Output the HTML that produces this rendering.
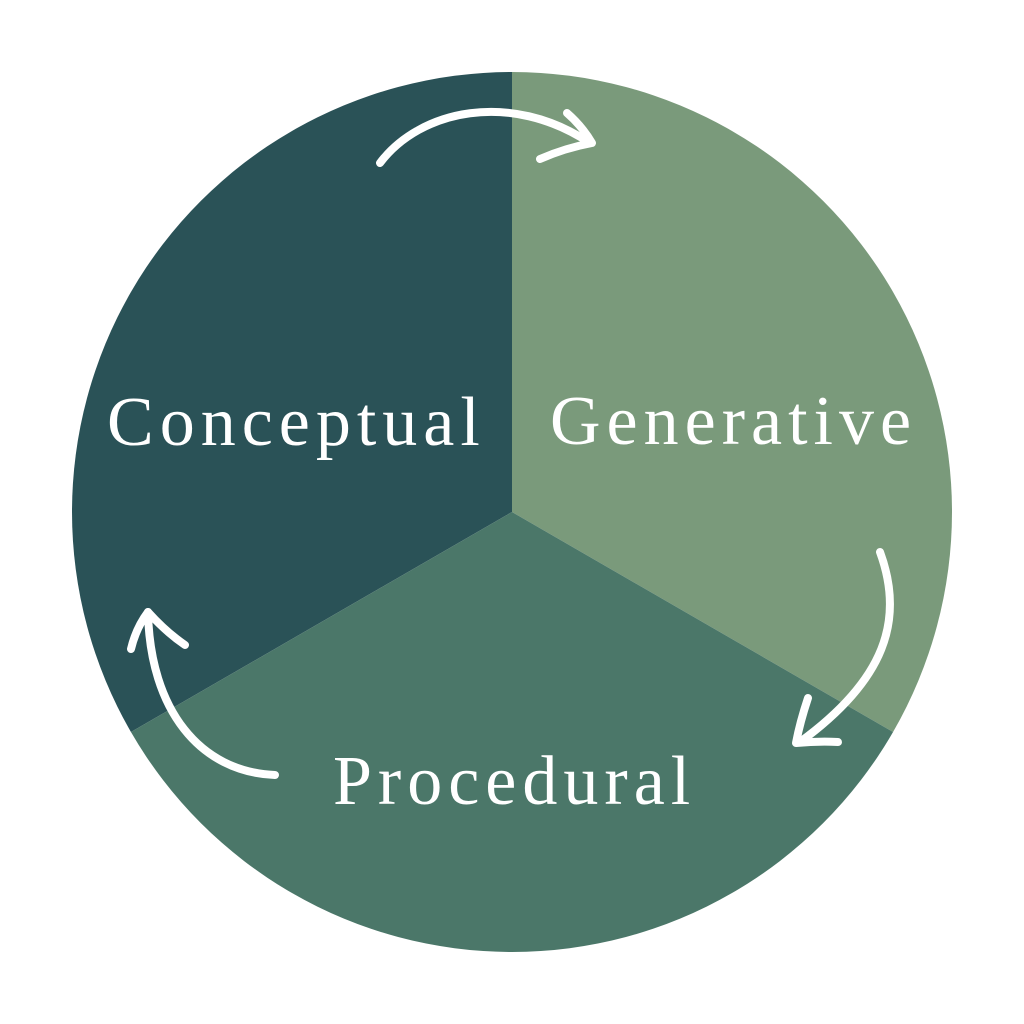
<!DOCTYPE html>
<html>
<head>
<meta charset="utf-8">
<style>
  html,body{margin:0;padding:0;background:#ffffff;}
  svg{display:block;}
  text{font-family:"Liberation Serif","Times New Roman",serif;fill:#ffffff;font-size:70px;letter-spacing:6px;}
</style>
</head>
<body>
<svg width="1024" height="1024" viewBox="0 0 1024 1024" xmlns="http://www.w3.org/2000/svg">
  <rect width="1024" height="1024" fill="#ffffff"/>
  <!-- sectors: center (512,512), r=440 -->
  <!-- top-left: from bottom-left (angle 210deg) to top -->
  <path d="M512,512 L512,72 A440,440 0 0 0 130.95,732 Z" fill="#2a5257"/>
  <!-- top-right -->
  <path d="M512,512 L893.05,732 A440,440 0 0 0 512,72 Z" fill="#7a9a7b"/>
  <!-- bottom -->
  <path d="M512,512 L130.95,732 A440,440 0 0 0 893.05,732 Z" fill="#4b7769"/>

  <!-- arrows -->
  <g fill="none" stroke="#ffffff" stroke-linecap="round" stroke-linejoin="round">
    <path d="M380,163 C420,110 510,90 590,143" stroke-width="8"/>
    <path d="M567,113 Q582,126 592,143 Q565,148 540,159" stroke-width="8"/>

    <path d="M880,552 C905,620 885,680 800,742" stroke-width="8"/>
    <path d="M808,698 Q800,722 796,743 Q818,741 838,742" stroke-width="8"/>

    <path d="M275,775 C200,772 150,710 148,612" stroke-width="8"/>
    <path d="M131,649 Q136,628 148,612 Q166,632 185,645" stroke-width="8"/>
  </g>

  <!-- labels -->
  <text x="107" y="445">Conceptual</text>
  <text x="550" y="444">Generative</text>
  <text x="333" y="804">Procedural</text>
</svg>
</body>
</html>
